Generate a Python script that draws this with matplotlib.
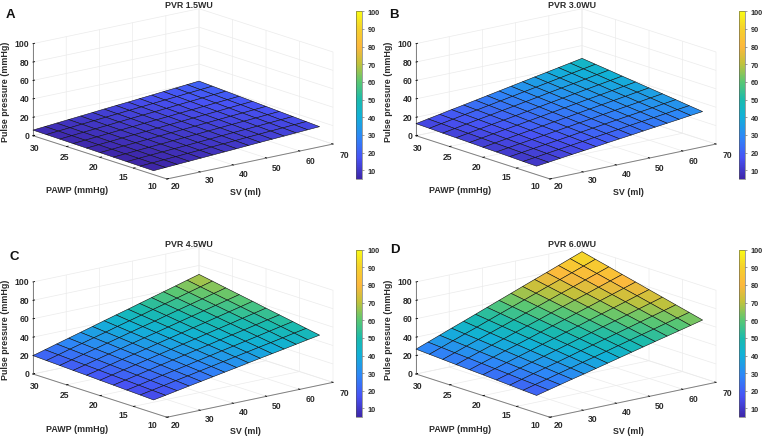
import matplotlib
matplotlib.use("Agg")
import matplotlib.pyplot as plt
from matplotlib.cm import ScalarMappable
from matplotlib.colors import LinearSegmentedColormap, Normalize
from mpl_toolkits.mplot3d import proj3d
import numpy as np

plt.rcParams["font.family"] = ["Liberation Sans", "DejaVu Sans"]
plt.rcParams["font.weight"] = "bold"

sv = [20, 23.6, 27.1, 30.7, 34.3, 37.9, 41.4, 45, 48.6, 52.1, 55.7, 59.3, 62.9, 66.4, 70]
pawp = [30, 28, 26, 24, 22, 20, 18, 16, 14, 12]

# pulse pressure, one row per PAWP value
pp_a = [
    [6.1, 7.2, 8.3, 9.4, 10.5, 11.6, 12.7, 13.8, 14.8, 15.9, 17.0, 18.1, 19.2, 20.3, 21.4],
    [5.9, 7.0, 8.0, 9.1, 10.1, 11.2, 12.2, 13.3, 14.3, 15.3, 16.4, 17.4, 18.5, 19.5, 20.6],
    [5.7, 6.7, 7.7, 8.7, 9.7, 10.8, 11.8, 12.8, 13.7, 14.7, 15.8, 16.8, 17.8, 18.8, 19.8],
    [5.5, 6.5, 7.4, 8.4, 9.4, 10.3, 11.3, 12.3, 13.2, 14.2, 15.1, 16.1, 17.1, 18.0, 19.0],
    [5.3, 6.2, 7.1, 8.1, 9.0, 9.9, 10.8, 11.8, 12.7, 13.6, 14.5, 15.4, 16.4, 17.3, 18.2],
    [5.1, 6.0, 6.9, 7.7, 8.6, 9.5, 10.4, 11.2, 12.1, 13.0, 13.9, 14.8, 15.6, 16.5, 17.4],
    [4.9, 5.7, 6.6, 7.4, 8.2, 9.1, 9.9, 10.7, 11.6, 12.4, 13.3, 14.1, 14.9, 15.8, 16.6],
    [4.7, 5.5, 6.3, 7.1, 7.9, 8.6, 9.4, 10.2, 11.1, 11.9, 12.6, 13.4, 14.2, 15.0, 15.8],
    [4.5, 5.2, 6.0, 6.7, 7.5, 8.2, 9.0, 9.7, 10.5, 11.3, 12.0, 12.8, 13.5, 14.3, 15.0],
    [4.3, 5.0, 5.7, 6.4, 7.1, 7.8, 8.5, 9.2, 10.0, 10.7, 11.4, 12.1, 12.8, 13.5, 14.2],
]
pp_b = [
    [13.1, 15.5, 17.8, 20.2, 22.5, 24.9, 27.2, 29.6, 32.0, 34.3, 36.7, 39.0, 41.4, 43.7, 46.1],
    [12.7, 15.0, 17.2, 19.5, 21.7, 24.0, 26.2, 28.5, 30.8, 33.0, 35.3, 37.6, 39.9, 42.1, 44.4],
    [12.2, 14.4, 16.6, 18.8, 20.9, 23.1, 25.2, 27.4, 29.6, 31.8, 34.0, 36.1, 38.3, 40.5, 42.7],
    [11.8, 13.9, 16.0, 18.1, 20.1, 22.2, 24.3, 26.4, 28.5, 30.5, 32.6, 34.7, 36.8, 38.8, 40.9],
    [11.4, 13.4, 15.4, 17.4, 19.3, 21.3, 23.3, 25.3, 27.3, 29.3, 31.3, 33.2, 35.2, 37.2, 39.2],
    [10.9, 12.8, 14.7, 16.6, 18.5, 20.4, 22.3, 24.2, 26.1, 28.0, 29.9, 31.8, 33.7, 35.6, 37.5],
    [10.5, 12.3, 14.1, 15.9, 17.7, 19.5, 21.3, 23.1, 24.9, 26.8, 28.6, 30.3, 32.1, 34.0, 35.8],
    [10.1, 11.8, 13.5, 15.2, 16.9, 18.6, 20.4, 22.1, 23.8, 25.5, 27.2, 28.9, 30.6, 32.4, 34.1],
    [9.6, 11.2, 12.9, 14.5, 16.1, 17.7, 19.4, 21.0, 22.6, 24.3, 25.9, 27.4, 29.0, 30.7, 32.3],
    [9.2, 10.7, 12.3, 13.8, 15.3, 16.8, 18.4, 19.9, 21.4, 23.0, 24.5, 26.0, 27.5, 29.1, 30.6],
]
pp_c = [
    [20.0, 23.6, 27.2, 30.8, 34.4, 38.0, 41.6, 45.2, 48.7, 52.3, 55.9, 59.5, 63.1, 66.7, 70.3],
    [19.3, 22.8, 26.3, 29.7, 33.2, 36.6, 40.1, 43.5, 46.9, 50.4, 53.8, 57.3, 60.8, 64.2, 67.7],
    [18.7, 22.0, 25.3, 28.6, 32.0, 35.3, 38.6, 41.9, 45.1, 48.5, 51.8, 55.1, 58.4, 61.7, 65.0],
    [18.0, 21.2, 24.4, 27.6, 30.7, 33.9, 37.1, 40.2, 43.4, 46.5, 49.7, 52.9, 56.1, 59.2, 62.4],
    [17.4, 20.4, 23.4, 26.5, 29.5, 32.5, 35.6, 38.6, 41.6, 44.6, 47.6, 50.7, 53.7, 56.7, 59.8],
    [16.7, 19.6, 22.5, 25.4, 28.3, 31.2, 34.0, 36.9, 39.8, 42.7, 45.6, 48.4, 51.4, 54.2, 57.1],
    [16.1, 18.8, 21.5, 24.3, 27.1, 29.8, 32.5, 35.3, 38.0, 40.8, 43.5, 46.2, 49.0, 51.8, 54.5],
    [15.4, 18.0, 20.6, 23.3, 25.8, 28.4, 31.0, 33.6, 36.3, 38.8, 41.4, 44.0, 46.7, 49.3, 51.9],
    [14.8, 17.2, 19.6, 22.2, 24.6, 27.1, 29.5, 32.0, 34.5, 36.9, 39.4, 41.8, 44.3, 46.8, 49.2],
    [14.1, 16.4, 18.7, 21.1, 23.4, 25.7, 28.0, 30.3, 32.7, 35.0, 37.3, 39.6, 42.0, 44.3, 46.6],
]
pp_d = [
    [27.0, 31.9, 36.7, 41.6, 46.4, 51.3, 56.1, 61.0, 65.9, 70.7, 75.6, 80.4, 85.3, 90.1, 95.0],
    [26.1, 30.8, 35.4, 40.1, 44.7, 49.5, 54.1, 58.8, 63.5, 68.1, 72.8, 77.4, 82.1, 86.7, 91.4],
    [25.2, 29.7, 34.2, 38.7, 43.1, 47.6, 52.0, 56.6, 61.1, 65.5, 70.0, 74.4, 79.0, 83.4, 87.9],
    [24.3, 28.7, 32.9, 37.2, 41.4, 45.8, 50.0, 54.3, 58.7, 62.9, 67.2, 71.4, 75.8, 80.0, 84.3],
    [23.4, 27.6, 31.6, 35.8, 39.8, 43.9, 48.0, 52.1, 56.2, 60.3, 64.4, 68.5, 72.6, 76.6, 80.8],
    [22.6, 26.5, 30.4, 34.3, 38.1, 42.1, 45.9, 49.9, 53.8, 57.7, 61.6, 65.5, 69.4, 73.3, 77.2],
    [21.7, 25.4, 29.1, 32.8, 36.5, 40.3, 43.9, 47.7, 51.4, 55.1, 58.8, 62.5, 66.3, 69.9, 73.7],
    [20.8, 24.3, 27.8, 31.4, 34.8, 38.4, 41.9, 45.4, 49.0, 52.5, 56.0, 59.5, 63.1, 66.5, 70.1],
    [19.9, 23.3, 26.5, 29.9, 33.2, 36.6, 39.8, 43.2, 46.6, 49.9, 53.2, 56.5, 59.9, 63.2, 66.6],
    [19.0, 22.2, 25.3, 28.5, 31.5, 34.7, 37.8, 41.0, 44.2, 47.3, 50.5, 53.6, 56.7, 59.8, 63.0],
]

titles = ["PVR 1.5WU", "PVR 3.0WU", "PVR 4.5WU", "PVR 6.0WU"]
letters = ["A", "B", "C", "D"]
tables = [pp_a, pp_b, pp_c, pp_d]

sv_ticks = [20, 30, 40, 50, 60, 70]
pawp_ticks = [10, 15, 20, 25, 30]
pp_ticks = [0, 20, 40, 60, 80, 100]
bar_ticks = [10, 20, 30, 40, 50, 60, 70, 80, 90, 100]

# pixel offset of the tick labels from their ticks, they drift along the axis
sv_offsets = {20: (9, -7), 30: (9.5, -8), 40: (10, -8.5), 50: (10, -9), 60: (10.5, -9.5), 70: (11, -10)}
pawp_offsets = {10: (-15, -7), 15: (-10, -8), 20: (-6, -9), 25: (-2, -10), 30: (2, -12)}

W, H = 763, 439
TEXT = "#2b2b2b"
TICK_SIZE = 6.2

# parula-like colour map
parula = LinearSegmentedColormap.from_list("parula", [
    (0.000, (0.2422, 0.1504, 0.6603)),
    (0.125, (0.2810, 0.3228, 0.9579)),
    (0.250, (0.1786, 0.5289, 0.9682)),
    (0.375, (0.0689, 0.6948, 0.8394)),
    (0.470, (0.1000, 0.7300, 0.6800)),
    (0.580, (0.3500, 0.7800, 0.4500)),
    (0.690, (0.7600, 0.7600, 0.2300)),
    (0.790, (0.9900, 0.7200, 0.2400)),
    (0.900, (0.9600, 0.8200, 0.1700)),
    (1.000, (0.9769, 0.9839, 0.0805)),
])
norm = Normalize(5, 100)


def corner_px(ax, x, y, z):
    # where a data point ends up on the canvas, in pixels
    xs, ys, _ = proj3d.proj_transform(x, y, z, ax.get_proj())
    return ax.transData.transform((xs, ys))


def fit_box(ax, left, right_x):
    # scale and shift the 3d axes so the floor corners land on the wanted pixels
    for i in range(3):
        ax.apply_aspect()
        a = corner_px(ax, 20, 30, 0)
        b = corner_px(ax, 70, 10, 0)
        pos = ax.get_position()
        k = (right_x - left[0]) / (b[0] - a[0])
        ax.set_position([pos.x0, pos.y0, pos.width * k, pos.height * k])
        ax.apply_aspect()
        a = corner_px(ax, 20, 30, 0)
        pos = ax.get_position()
        ax.set_position([pos.x0 + (left[0] - a[0]) / W, pos.y0 + (left[1] - a[1]) / H,
                         pos.width, pos.height])
    ax.apply_aspect()


def tick_label(fig, px, dx, dy, text, ha="center"):
    fig.text((px[0] + dx) / W, (px[1] + dy) / H, text, fontsize=TICK_SIZE, color=TEXT, ha=ha, va="center")


def draw_panel(fig, table, title, letter, ox, oy, letter_xy):
    ax = fig.add_axes([0.1, 0.1, 300 / W, 300 / H], projection="3d", proj_type="ortho")
    ax.patch.set_alpha(0)
    ax.view_init(elev=15.1, azim=-128.9)
    ax.set_box_aspect((1, 1, 0.447))

    X, Y = np.meshgrid(sv, pawp)
    ax.plot_surface(X, Y, np.array(table), cmap=parula, norm=norm, rstride=1, cstride=1,
                    edgecolor="#101010", linewidth=0.4, shade=False, antialiased=True)

    ax.set_xlim(20, 70)
    ax.set_ylim(10, 30)
    ax.set_zlim(0, 100)
    ax.set_xticks(sv_ticks)
    ax.set_yticks(pawp_ticks)
    ax.set_zticks(pp_ticks)
    ax.set_xticklabels([])
    ax.set_yticklabels([])
    ax.set_zticklabels([])

    for axis in [ax.xaxis, ax.yaxis, ax.zaxis]:
        axis.set_pane_color((1, 1, 1, 0))
        axis.pane.set_edgecolor("#e8e8e8")
        axis.pane.set_linewidth(0.5)
        axis.line.set_color("#808080")
        axis.line.set_linewidth(0.7)
        axis._axinfo["grid"]["color"] = "#ebebeb"
        axis._axinfo["grid"]["linewidth"] = 0.5
        axis._axinfo["tick"]["inward_factor"] = 0.0
        axis._axinfo["tick"]["outward_factor"] = 0.12
        axis._axinfo["tick"]["color"] = "#808080"
        axis._axinfo["tick"]["linewidth"] = {True: 0.6, False: 0.4}

    fit_box(ax, (33 + ox, H - (136.7 + oy)), 333 + ox)

    for t in sv_ticks:
        tick_label(fig, corner_px(ax, t, 10, 0), sv_offsets[t][0], sv_offsets[t][1], str(t))
    for t in pawp_ticks:
        tick_label(fig, corner_px(ax, 20, t, 0), pawp_offsets[t][0], pawp_offsets[t][1], str(t))
    for t in pp_ticks:
        tick_label(fig, corner_px(ax, 20, 30, t), -3.5, 0, str(t), ha="right")

    # labels stay horizontal like in the original, so they are plain figure text
    fig.text((189 + ox) / W, 1 - (6 + oy) / H, title, fontsize=6.4, color=TEXT, ha="center", va="center")
    fig.text((77 + ox) / W, 1 - (191 + oy) / H, "PAWP (mmHg)", fontsize=6.4, color=TEXT, ha="center", va="center")
    fig.text((245 + ox) / W, 1 - (193 + oy) / H, "SV (ml)", fontsize=6.4, color=TEXT, ha="center", va="center")
    fig.text((6 + ox) / W, 1 - (92 + oy) / H, "Pulse pressure (mmHg)", fontsize=6.4, color=TEXT,
             rotation=90, ha="center", va="center")
    fig.text(letter_xy[0] / W, 1 - letter_xy[1] / H, letter, fontsize=9.5, color="#111111", ha="center", va="center")

    cax = fig.add_axes([(355.7 + ox) / W, 1 - (180 + oy) / H, 6 / W, 167.7 / H])
    cb = fig.colorbar(ScalarMappable(norm=norm, cmap=parula), cax=cax, ticks=bar_ticks)
    cb.ax.tick_params(labelsize=5.3, labelcolor=TEXT, length=1.5, width=0.4, pad=3, color="#555555")
    cb.outline.set_linewidth(0.4)
    cb.outline.set_edgecolor("#555555")


fig = plt.figure(figsize=(W / 100, H / 100), dpi=100)
draw_panel(fig, tables[0], titles[0], letters[0], 0, 0, (10, 14.5))
draw_panel(fig, tables[1], titles[1], letters[1], 383, 0, (394, 14.5))
draw_panel(fig, tables[2], titles[2], letters[2], 0, 238.3, (14, 257))
draw_panel(fig, tables[3], titles[3], letters[3], 383, 238.3, (394.5, 250))
fig.savefig("out.png", dpi=100)
